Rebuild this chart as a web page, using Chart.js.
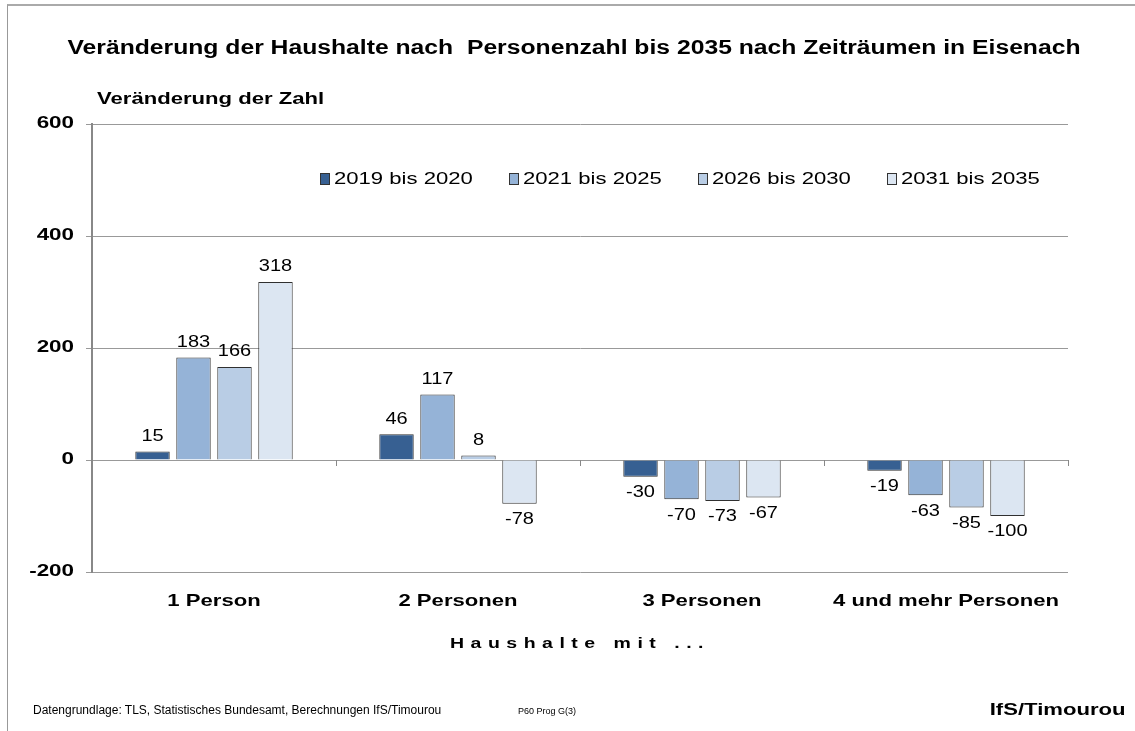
<!DOCTYPE html>
<html lang="de">
<head>
<meta charset="utf-8">
<script src="https://cdn.jsdelivr.net/npm/chart.js@4.4.1/dist/chart.umd.min.js"></script>
<style>
    html, body { margin: 0; padding: 0; background: #fff; }
    body { width: 1135px; height: 731px; position: relative; overflow: hidden; font-family: "Liberation Sans", Arial, sans-serif; color: #000; }
    #rahmen { position: absolute; left: 7px; top: 4px; width: 1140px; height: 740px; border-left: 1px solid #999; border-top: 2px solid #aaa; }
    #grafico { position: absolute; left: 0; top: 0; }
    .txt { position: absolute; white-space: pre; }
    #titulo { left: 0; width: 1148px; top: 36px; text-align: center; font-weight: bold; font-size: 20px; transform: scaleX(1.235); }
    #eixo-y { left: 97px; top: 89px; font-weight: bold; font-size: 17px; transform: scaleX(1.3); transform-origin: left center; }
    #eixo-x { left: 92px; width: 976px; top: 634px; text-align: center; font-weight: bold; font-size: 15px; letter-spacing: 5px; transform: scaleX(1.3); }
    #fonte { left: 33px; top: 703px; font-size: 12px; }
    #codigo { left: 518px; top: 706px; font-size: 9px; }
    #marca { right: 9px; top: 700px; font-size: 17px; font-weight: bold; transform: scaleX(1.3); transform-origin: right center; }
    #legenda { position: absolute; left: 320px; top: 169px; display: flex; font-size: 17px; }
    #legenda .item { display: flex; align-items: center; width: 189px; }
    #legenda .caixa { width: 8px; height: 10px; border: 1px solid #333; margin-right: 4px; }
    #legenda .nome { display: inline-block; transform: scaleX(1.3); transform-origin: left center; }
</style>
</head>
<body>
<div id="rahmen"></div>
<canvas id="grafico" width="1135" height="731"></canvas>
<div class="txt" id="titulo">Veränderung der Haushalte nach  Personenzahl bis 2035 nach Zeiträumen in Eisenach</div>
<div class="txt" id="eixo-y">Veränderung der Zahl</div>
<div id="legenda"></div>
<div class="txt" id="eixo-x">Haushalte mit ...</div>
<div class="txt" id="fonte">Datengrundlage: TLS, Statistisches Bundesamt, Berechnungen IfS/Timourou</div>
<div class="txt" id="codigo">P60 Prog G(3)</div>
<div class="txt" id="marca">IfS/Timourou</div>
<script>
const categorias = ["1 Person", "2 Personen", "3 Personen", "4 und mehr Personen"];
const series = ["2019 bis 2020", "2021 bis 2025", "2026 bis 2030", "2031 bis 2035"];
const valores2019 = [15, 46, -30, -19];
const valores2021 = [183, 117, -70, -63];
const valores2026 = [166, 8, -73, -85];
const valores2031 = [318, -78, -67, -100];
const ticksY = [-200, 0, 200, 400, 600];

const cores = ["#376092", "#95b3d7", "#b9cde5", "#dce6f2"];
const fonte = "'Liberation Sans', Arial, sans-serif";

// legenda em HTML dentro da area do grafico
const legendaDiv = document.getElementById("legenda");
series.forEach((nome, i) => {
    const item = document.createElement("div");
    item.className = "item";
    item.innerHTML = `<span class="caixa" style="background:${cores[i]}"></span><span class="nome">${nome}</span>`;
    legendaDiv.appendChild(item);
});

// o original tem o texto esticado na horizontal
function textoEsticado(ctx, texto, x, y, alinhamento, sx) {
    ctx.save();
    ctx.translate(x, y);
    ctx.scale(sx, 1);
    ctx.textAlign = alinhamento;
    ctx.fillText(texto, 0, 0);
    ctx.restore();
}

// rotulos dos valores acima/abaixo das barras
const rotulosPlugin = {
    id: "rotulos",
    afterDatasetsDraw(chart) {
        const ctx = chart.ctx;
        ctx.save();
        ctx.font = "16px " + fonte;
        ctx.fillStyle = "#000";
        chart.data.datasets.forEach((ds, i) => {
            chart.getDatasetMeta(i).data.forEach((bar, j) => {
                const v = ds.data[j];
                if (v >= 0) {
                    ctx.textBaseline = "bottom";
                    textoEsticado(ctx, String(v), bar.x, bar.y - 7, "center", 1.25);
                } else {
                    ctx.textBaseline = "top";
                    textoEsticado(ctx, String(v), bar.x, bar.y + 8, "center", 1.25);
                }
            });
        });
        ctx.restore();
    }
};

// eixos: rotulos e marcas de categoria sobre a linha zero
const eixosPlugin = {
    id: "eixos",
    afterDraw(chart) {
        const x = chart.scales.x;
        const y = chart.scales.y;
        const y0 = y.getPixelForValue(0);
        const largura = (x.right - x.left) / categorias.length;
        const ctx = chart.ctx;
        ctx.save();
        ctx.strokeStyle = "#888";
        ctx.lineWidth = 1;
        for (let i = 1; i <= categorias.length; i++) {
            const px = Math.round(x.left + largura * i) + 0.5;
            ctx.beginPath();
            ctx.moveTo(px, y0);
            ctx.lineTo(px, y0 + 6);
            ctx.stroke();
        }
        ctx.fillStyle = "#000";
        ctx.font = "bold 16px " + fonte;
        ctx.textBaseline = "middle";
        ticksY.forEach(v => {
            textoEsticado(ctx, String(v), 74, y.getPixelForValue(v), "right", 1.4);
        });
        ctx.font = "bold 17px " + fonte;
        categorias.forEach((c, i) => {
            textoEsticado(ctx, c, x.getPixelForValue(i), 601, "center", 1.3);
        });
        ctx.restore();
    }
};

const listas = [valores2019, valores2021, valores2026, valores2031];

new Chart(document.getElementById("grafico"), {
    type: "bar",
    data: {
        labels: categorias,
        datasets: series.map((nome, i) => ({
            label: nome,
            data: listas[i],
            backgroundColor: cores[i],
            borderColor: "#303030",
            borderWidth: 1,
            barPercentage: 0.84,
            categoryPercentage: 0.672
        }))
    },
    options: {
        responsive: false,
        animation: false,
        events: [],
        layout: {
            padding: { top: 124, right: 67, left: 0, bottom: 0 }
        },
        plugins: {
            legend: { display: false },
            title: { display: false },
            tooltip: { enabled: false }
        },
        scales: {
            x: {
                grid: { display: false },
                border: { display: false },
                ticks: { display: false },
                afterFit: s => { s.height = 731 - 572; }
            },
            y: {
                min: -200,
                max: 600,
                afterBuildTicks: s => { s.ticks = ticksY.map(v => ({ value: v })); },
                grid: {
                    color: "#999",
                    lineWidth: 1,
                    tickLength: 6
                },
                border: { color: "#888", width: 2 },
                ticks: { display: false },
                afterFit: s => { s.width = 92; }
            }
        }
    },
    plugins: [rotulosPlugin, eixosPlugin]
});
</script>
</body>
</html>
